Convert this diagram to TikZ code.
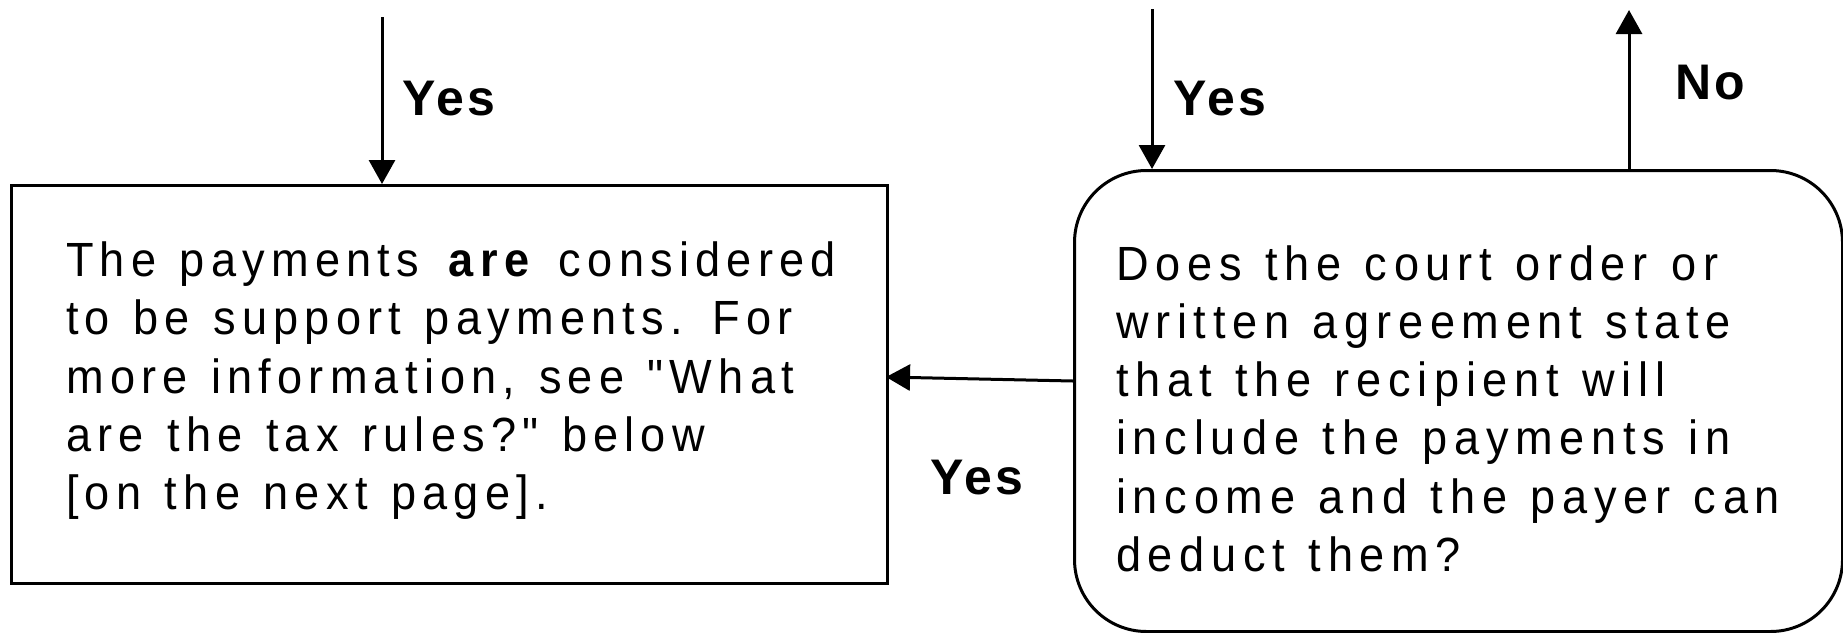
\documentclass[tikz,border=0pt]{standalone}
\usepackage{fontspec}
\setmainfont{Liberation Sans}
\newfontfamily\bodyfontA{Liberation Sans}[FakeStretch=0.94, LetterSpace=13]
\newfontfamily\bodyfontB{Liberation Sans}[FakeStretch=0.94, LetterSpace=14]
\newfontfamily\labfont{Liberation Sans}[LetterSpace=7]
\usetikzlibrary{arrows.meta,calc}
\newcommand{\firstbase}[1]{\parbox[t]{1000pt}{\raggedright\spaceskip=23.5pt #1}}
\tikzset{
  boxA/.style={draw, line width=3pt, rectangle, inner sep=0pt},
  boxB/.style={draw, line width=3pt, rectangle, rounded corners=72pt, inner sep=0pt},
  txtA/.style={inner sep=0pt, anchor=base west, font=\bodyfontA\fontsize{48}{58.3}\selectfont},
  txtB/.style={inner sep=0pt, anchor=base west, font=\bodyfontB\fontsize{48}{58.3}\selectfont},
  lab/.style={inner sep=0pt, anchor=base west, font=\labfont\bfseries\fontsize{50}{60}\selectfont},
  arr/.style={line width=3pt, -{Triangle[width=26pt,length=24pt]}}
}
\begin{document}
\begin{tikzpicture}[x=1pt,y=-1pt]
\useasboundingbox (0,0) rectangle (1843,632);
\node[boxA, minimum width=876pt, minimum height=398pt, anchor=north west] (a) at (10,184) {};
\node[boxB, minimum width=768pt, minimum height=461pt, anchor=north west] (q) at (1073,169) {};
\node[txtA] (ta) at (66,276.5) {\firstbase{The payments \textbf{are} considered\\to be support payments. For\\more information, see "What\\are the tax rules?" below\\{[on the next page].}}};
\node[txtB] (tq) at (1116,280) {\firstbase{Does the court order or\\written agreement state\\that the recipient will\\include the payments in\\income and the payer can\\deduct them?}};
\coordinate (s1) at (382,17);
\coordinate (s2) at (1152,9);
\coordinate (e3) at (1629,10);
\coordinate (h1) at (1073,381);
\coordinate (h2) at (886,377);
\draw[arr] (s1) -- (s1 |- a.north);
\draw[arr] (s2) -- (s2 |- q.north);
\draw[arr] (q.north -| e3) -- (e3);
\draw[arr] (h1) -- (h2);
\node[lab] (y1) at (402,115) {Yes};
\node[lab] (y2) at (1173,115) {Yes};
\node[lab] (n1) at (1675,99) {No};
\node[lab] (y3) at (930,494) {Yes};
\end{tikzpicture}
\end{document}
